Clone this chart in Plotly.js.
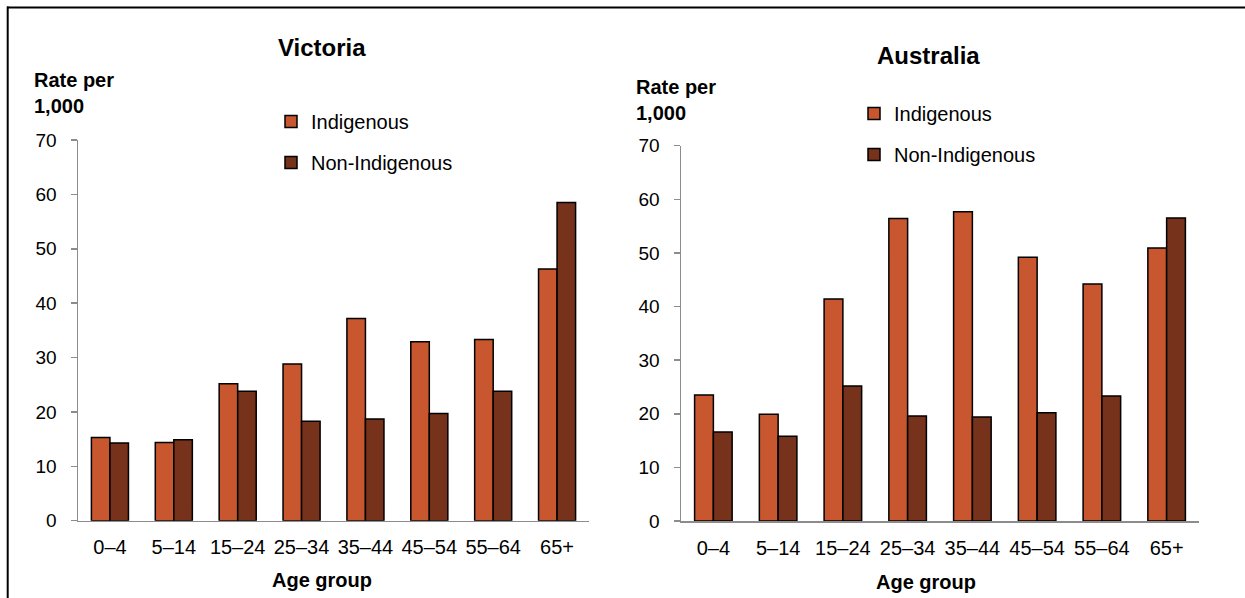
<!DOCTYPE html>
<html>
<head>
<meta charset="utf-8">
<script src="https://cdn.plot.ly/plotly-3.0.1.min.js"></script>
<style>
html,body{margin:0;padding:0;background:#fff;}
#chart{width:1245px;height:598px;}
</style>
</head>
<body>
<div id="chart"></div>
<script>
// ---- data ----
const categories = ['0–4','5–14','15–24','25–34','35–44','45–54','55–64','65+'];
const vicIndigenous    = [15.3,14.4,25.2,28.8,37.2,32.9,33.3,46.3];
const vicNonIndigenous = [14.3,14.9,23.8,18.3,18.7,19.7,23.8,58.5];
const ausIndigenous    = [23.5,19.9,41.4,56.4,57.7,49.2,44.2,50.9];
const ausNonIndigenous = [16.6,15.8,25.2,19.6,19.4,20.2,23.3,56.5];
const yTickValues = [0,10,20,30,40,50,60,70];
const seriesNames = ['Indigenous','Non-Indigenous'];
const panelTitles = ['Victoria','Australia'];

// ---- styling ----
const W = 1245, H = 598;
const FONT = 'Liberation Sans, Arial, sans-serif';
const cInd = '#C8562E', cNon = '#76321A';
const axisGray = '#8C8C8C';
const px = v => v / W;
const py = v => 1 - v / H;

function barTrace(y, name, color, xa, ya, legend, group) {
  return {
    type: 'bar', x: categories, y: y, name: name,
    xaxis: xa, yaxis: ya, legend: legend, legendgroup: group,
    marker: {color: color, line: {color: '#000', width: 1.5}},
    hoverinfo: 'x+y+name'
  };
}

const data = [
  barTrace(vicIndigenous, seriesNames[0], cInd, 'x', 'y', 'legend', 'a'),
  barTrace(vicNonIndigenous, seriesNames[1], cNon, 'x', 'y', 'legend', 'b'),
  barTrace(ausIndigenous, seriesNames[0], cInd, 'x2', 'y2', 'legend2', 'c'),
  barTrace(ausNonIndigenous, seriesNames[1], cNon, 'x2', 'y2', 'legend2', 'd')
];

function xAxis(d0, d1, anchor) {
  return {
    domain: [px(d0), px(d1)], anchor: anchor,
    showline: true, linecolor: axisGray, linewidth: 1.5,
    ticks: '', showgrid: false, zeroline: false,
    tickfont: {family: FONT, size: 20, color: '#000'},
    ticklabelstandoff: 8, fixedrange: true
  };
}
function yAxis(top, bottom, anchor) {
  return {
    domain: [py(bottom), py(top)], anchor: anchor,
    range: [0, 70], tickvals: yTickValues,
    showline: true, linecolor: axisGray, linewidth: 1.5,
    ticks: 'outside', ticklen: 6, tickcolor: axisGray, tickwidth: 1.5,
    showgrid: false, zeroline: false,
    tickfont: {family: FONT, size: 19, color: '#000'},
    ticklabelstandoff: 10, fixedrange: true
  };
}

function legendObj(xLeft, yTop) {
  return {
    x: px(xLeft), y: py(yTop), xanchor: 'left', yanchor: 'top',
    xref: 'paper', yref: 'paper',
    font: {family: FONT, size: 20, color: '#000'},
    traceorder: 'grouped', tracegroupgap: 12,
    bgcolor: 'rgba(0,0,0,0)', borderwidth: 0
  };
}

function ann(text, x, y, size, xanchor) {
  return {
    text: text, x: px(x), y: py(y), xref: 'paper', yref: 'paper',
    xanchor: xanchor || 'center', yanchor: 'middle', showarrow: false,
    align: 'left',
    font: {family: FONT, size: size, color: '#000'}
  };
}

const layout = {
  width: W, height: H,
  margin: {l: 0, r: 0, t: 0, b: 0},
  paper_bgcolor: '#fff', plot_bgcolor: '#fff',
  bargap: 0.42, bargroupgap: 0,
  barmode: 'group',
  showlegend: true,
  xaxis: xAxis(78, 589, 'y'),
  yaxis: yAxis(140, 520.7, 'x'),
  xaxis2: xAxis(681, 1199, 'y2'),
  yaxis2: yAxis(145.7, 521, 'x2'),
  legend: legendObj(271, 102),
  legend2: legendObj(854, 94),
  annotations: [
    ann('<b>' + panelTitles[0] + '</b>', 322, 47, 24),
    ann('<b>' + panelTitles[1] + '</b>', 928, 55, 24),
    ann('<b>Rate per<br>1,000</b>', 32, 93, 20, 'left'),
    ann('<b>Rate per<br>1,000</b>', 634, 100, 20, 'left'),
    ann('<b>Age group</b>', 322, 580, 20),
    ann('<b>Age group</b>', 926, 582, 20)
  ],
  shapes: [
    {type: 'line', xref: 'paper', yref: 'paper', x0: px(7), x1: 1, y0: py(7.5), y1: py(7.5),
     line: {color: '#000', width: 2}},
    {type: 'line', xref: 'paper', yref: 'paper', x0: px(7.7), x1: px(7.7), y0: py(6.5), y1: 0,
     line: {color: '#000', width: 2}}
  ]
};

Plotly.newPlot('chart', data, layout, {displayModeBar: false, staticPlot: true});
</script>
</body>
</html>
